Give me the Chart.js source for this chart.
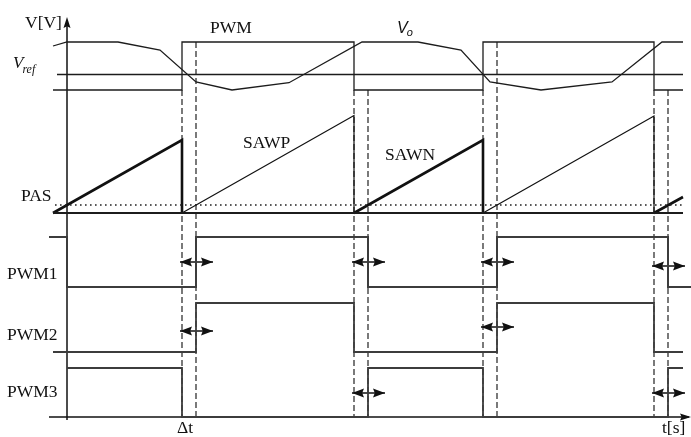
<!DOCTYPE html>
<html>
<head>
<meta charset="utf-8">
<script src="https://cdn.jsdelivr.net/npm/chart.js@4.4.1/dist/chart.umd.min.js"></script>
<style>
  html, body { margin: 0; padding: 0; background: #fff; }
  canvas { display: block; }
</style>
</head>
<body>
<canvas id="c" width="691" height="437"></canvas>
<script>
// ---- timing (arbitrary time units) ----
const switchTimes = [11.5, 28.7, 41.6, 58.7];
const deadTime = 1.4;
const tBegin = -1.4, tEnd = 61.6;

// ---- control stage: Vo compared with Vref gives PWM ----
const vref = 1.55;
const voTime  = [-1.4, 0, 5.1, 9.3, 12.9, 16.5, 22.2, 29.5, 35.1, 39.4, 42.3, 47.4, 54.5, 59.5, 61.6];
const voValue = [4.4, 4.8, 4.8, 4.0, 0.8, 0.0, 0.73, 4.8, 4.8, 4.0, 0.8, 0.0, 0.8, 4.8, 4.8];
const pwmTime  = [-1.4, 11.5, 28.7, 41.6, 58.7, 61.6];
const pwmLevel = [0, 1, 0, 1, 0, 0];

// ---- sawtooth carriers and PAS threshold (null = pen up) ----
const pasLevel = 0.8;
const sawpTime  = [11.5, 28.7, 28.7, null, 41.6, 58.7, 58.7];
const sawpValue = [0, 9.75, 0, null, 0, 9.7, 0];
const sawnTime  = [-1.4, 11.5, 11.5, null, 28.7, 41.6, 41.6, null, 58.7, 61.6];
const sawnValue = [0, 7.3, 0, null, 0, 7.3, 0, null, 0, 1.6];

// ---- gate signals ----
const pwm1Time  = [-1.8, 0, 12.9, 30.1, 43.0, 60.1, 62.4];
const pwm1Level = [1, 0, 1, 0, 1, 0, 0];
const pwm2Time  = [-1.4, 12.9, 28.7, 43.0, 58.7, 61.6];
const pwm2Level = [0, 1, 0, 1, 0, 0];
const pwm3Time  = [0, 11.5, 30.1, 41.6, 60.1, 61.6];
const pwm3Level = [1, 0, 1, 0, 1, 1];

// ---- lane layout: baseline and height of each trace ----
const lanes = {
  top:  { base: 32.7, amp: 1 },
  pwm:  { base: 32.7, amp: 4.8 },
  saw:  { base: 20.4, amp: 1 },
  pwm1: { base: 13.0, amp: 5.0 },
  pwm2: { base: 6.5,  amp: 4.9 },
  pwm3: { base: 0,    amp: 4.9 }
};
// dead-time marker rows (one pair per switching instant)
const markerRows = [[15.5, 8.6], [15.5, 2.4], [15.5, 9.0], [15.1, 2.4]];

const INK = '#1c1c1c';
const GATE = '#3c3c3c';

function pts(times, values, lane) {
  return times.map((t, i) => (t === null || values[i] === null)
    ? { x: NaN, y: NaN }
    : { x: t, y: lane.base + values[i] * lane.amp });
}
function line(data, opts) {
  return Object.assign({
    data, showLine: true, borderColor: INK, borderWidth: 1.3,
    pointRadius: 0, fill: false, tension: 0, clip: false, spanGaps: false
  }, opts || {});
}

const datasets = [];

// Vref and Vo
datasets.push(line(pts([-1.0, tEnd], [vref, vref], lanes.top)));
datasets.push(line(pts(voTime, voValue, lanes.top)));
datasets.push(line(pts(pwmTime, pwmLevel, lanes.pwm), { stepped: true }));

// sawtooth lane
datasets.push(line(pts([tBegin, tEnd], [0, 0], lanes.saw), { borderWidth: 2 }));
datasets.push(line(pts([-1.2, tEnd], [pasLevel, pasLevel], lanes.saw),
  { borderWidth: 1.6, borderDash: [1.6, 3.4], borderColor: '#222' }));
datasets.push(line(pts(sawpTime, sawpValue, lanes.saw), { borderWidth: 1.2, borderColor: '#111' }));
datasets.push(line(pts(sawnTime, sawnValue, lanes.saw), { borderWidth: 2.6, borderColor: '#111' }));

// gate signals
datasets.push(line(pts(pwm1Time, pwm1Level, lanes.pwm1), { stepped: true, borderWidth: 2, borderColor: GATE }));
datasets.push(line(pts(pwm2Time, pwm2Level, lanes.pwm2), { stepped: true, borderWidth: 1.8, borderColor: GATE }));
datasets.push(line(pts(pwm3Time, pwm3Level, lanes.pwm3), { stepped: true, borderWidth: 1.8, borderColor: GATE }));

// dashed guides at each switching instant and after the dead time
const pwmLow = lanes.pwm.base, pwmHigh = lanes.pwm.base + lanes.pwm.amp;
switchTimes.forEach((s, i) => {
  const rising = pwmLevel[pwmTime.indexOf(s)] === 1;
  datasets.push(line([{ x: s, y: pwmLow }, { x: s, y: 0 }],
    { borderDash: [6, 3], borderWidth: 1.3, borderColor: '#333' }));
  datasets.push(line([{ x: s + deadTime, y: rising ? pwmHigh : pwmLow }, { x: s + deadTime, y: 0 }],
    { borderDash: [6, 3], borderWidth: 1.3, borderColor: '#333' }));
});

// dead-time marker shafts
const markers = [];
switchTimes.forEach((s, i) => {
  markerRows[i].forEach(y => {
    markers.push({ x0: s - 0.2, x1: s + 3.1, y });
    datasets.push(line([{ x: s - 0.2, y }, { x: s + 3.1, y }], { borderWidth: 1.7, borderColor: '#111' }));
  });
});

// axes
datasets.push(line([{ x: 0, y: -0.3 }, { x: 0, y: 39.6 }], { borderWidth: 1.5, borderColor: '#111' }));
datasets.push(line([{ x: -1.8, y: 0 }, { x: 62.2, y: 0 }], { borderWidth: 1.5, borderColor: '#111' }));

// text labels in chart coordinates
const labels = [
  { text: 'V[V]', x: -4.2, y: 38.9 },
  { text: 'PWM',  x: 14.3, y: 38.4 },
  { text: 'PAS',  x: -4.6, y: 21.6 },
  { text: 'SAWP', x: 17.6, y: 26.9 },
  { text: 'SAWN', x: 31.8, y: 25.7 },
  { text: 'PWM1', x: -6.0, y: 13.8 },
  { text: 'PWM2', x: -6.0, y: 7.7 },
  { text: 'PWM3', x: -6.0, y: 2.0 },
  { text: '\u0394t', x: 11.0, y: -1.6 },
  { text: 't[s]', x: 59.5, y: -1.6 }
];

function head(ctx, tipX, tipY, dirX, dirY, len, half) {
  const px = -dirY, py = dirX;
  ctx.beginPath();
  ctx.moveTo(tipX, tipY);
  ctx.lineTo(tipX - dirX * len + px * half, tipY - dirY * len + py * half);
  ctx.lineTo(tipX - dirX * len * 0.85, tipY - dirY * len * 0.85);
  ctx.lineTo(tipX - dirX * len - px * half, tipY - dirY * len - py * half);
  ctx.closePath();
  ctx.fill();
}

const decorations = {
  id: 'decorations',
  afterDatasetsDraw(chart) {
    const { ctx, scales: { x, y } } = chart;
    ctx.save();
    ctx.fillStyle = '#111';
    // dead-time arrow heads
    markers.forEach(m => {
      const py = y.getPixelForValue(m.y);
      head(ctx, x.getPixelForValue(m.x0), py, -1, 0, 12, 4.5);
      head(ctx, x.getPixelForValue(m.x1), py, 1, 0, 12, 4.5);
    });
    // axis arrow heads
    head(ctx, x.getPixelForValue(0), y.getPixelForValue(40.0), 0, -1, 11, 3.5);
    head(ctx, x.getPixelForValue(62.4), y.getPixelForValue(0), 1, 0, 11, 3.5);

    // labels
    ctx.fillStyle = '#111';
    ctx.textBaseline = 'alphabetic';
    ctx.textAlign = 'left';
    ctx.font = '17.5px "Liberation Serif", "DejaVu Serif", serif';
    labels.forEach(l => ctx.fillText(l.text, x.getPixelForValue(l.x), y.getPixelForValue(l.y)));

    // V_ref
    let vx = x.getPixelForValue(-5.4), vy = y.getPixelForValue(34.9);
    ctx.font = 'italic 17px "Liberation Serif", serif';
    ctx.fillText('V', vx, vy);
    let w = ctx.measureText('V').width;
    ctx.font = 'italic 12px "Liberation Serif", serif';
    ctx.fillText('ref', vx + w - 1, vy + 5);

    // V_o
    vx = x.getPixelForValue(33.0); vy = y.getPixelForValue(38.4);
    ctx.font = 'italic 16px "Liberation Sans", sans-serif';
    ctx.fillText('V', vx, vy);
    w = ctx.measureText('V').width;
    ctx.font = 'italic 11px "Liberation Sans", sans-serif';
    ctx.fillText('o', vx + w - 1, vy + 3);
    ctx.restore();
  }
};

new Chart(document.getElementById('c'), {
  type: 'scatter',
  data: { datasets },
  options: {
    responsive: false,
    devicePixelRatio: 1,
    animation: false,
    events: [],
    layout: { padding: 0 },
    plugins: { legend: { display: false }, tooltip: { enabled: false } },
    scales: {
      x: { type: 'linear', display: false, min: -6.7, max: 62.4 },
      y: { type: 'linear', display: false, min: -2.0, max: 41.7 }
    }
  },
  plugins: [decorations]
});
</script>
</body>
</html>
